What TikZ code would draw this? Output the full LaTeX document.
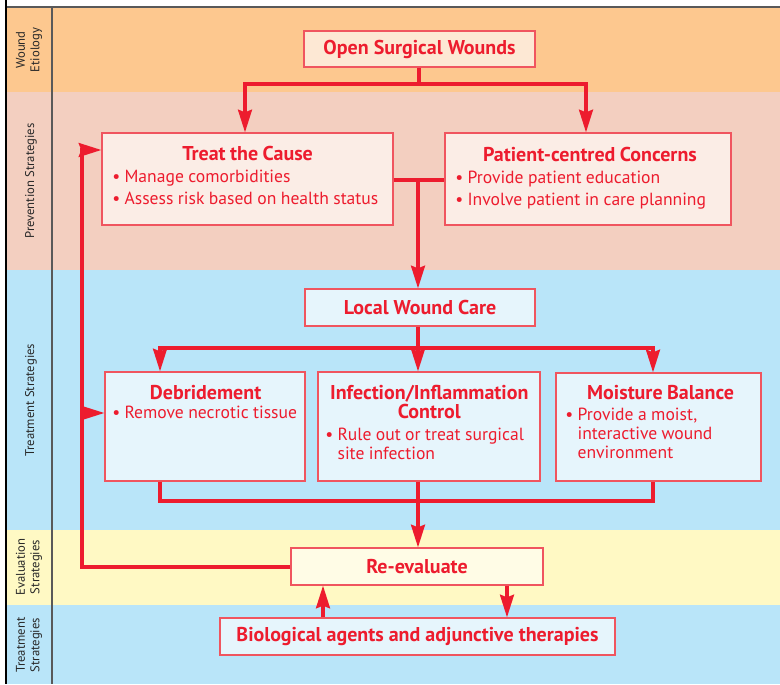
\documentclass[tikz,border=0pt]{standalone}
\usepackage{fontspec}
\setmainfont{PT Sans}
\usetikzlibrary{arrows.meta,calc}
\definecolor{rd}{RGB}{237,28,46}
\definecolor{bd}{RGB}{240,85,95}
\definecolor{bandO}{RGB}{253,200,143}
\definecolor{bandP}{RGB}{243,207,192}
\definecolor{bandB}{RGB}{185,229,249}
\definecolor{bandY}{RGB}{255,249,196}
\definecolor{fO}{RGB}{253,232,212}
\definecolor{fP}{RGB}{251,237,230}
\definecolor{fB}{RGB}{230,245,252}
\definecolor{fY}{RGB}{255,252,230}
\definecolor{lbl}{RGB}{40,40,40}
\newcommand{\ttl}{\fontsize{15}{16}\selectfont\bfseries}
\newcommand{\bl}[1]{\par\hangindent=0.7em\hangafter=1\noindent\makebox[0.7em][l]{•}#1\par}
\tikzset{
  box/.style={draw=bd, line width=1pt, inner sep=0pt},
  conn/.style={draw=rd, line width=2.3pt},
  arr/.style={conn, -{Stealth[length=17pt,width=10.5pt,inset=2pt]}},
  txt/.style={text=rd, inner sep=0pt, align=left},
  side/.style={text=lbl, rotate=90, align=center, font=\fontsize{9.5}{11}\selectfont, inner sep=0pt},
}
\begin{document}
\begin{tikzpicture}[x=0.75pt,y=-0.75pt]
\useasboundingbox (0,0) rectangle (780,684);
% bands
\fill[white] (0,0) rectangle (780,684);
\fill[bandO] (6,7) rectangle (780,92);
\fill[bandP] (6,92) rectangle (780,270);
\fill[bandB] (6,270) rectangle (780,530);
\fill[bandY] (6,530) rectangle (780,605);
\fill[bandB] (6,605) rectangle (780,684);
\draw[gray!70!black, line width=1pt] (6,7) -- (780,7);
\draw[black, line width=1pt] (6,0) -- (6,684);
\draw[gray!70!black, line width=0.9pt] (52,7) -- (52,684);
% side labels
\node[side] (s1) at (29,50) {Wound\\Etiology};
\node[side] (s2) at (31,181) {Prevention Strategies};
\node[side] (s3) at (31,400) {Treatment Strategies};
\node[side] (s4) at (29,567) {Evaluation\\Strategies};
\node[side] (s5) at (29,645) {Treatment\\Strategies};
% boxes
\node[box, fill=fO, minimum width=173.25pt, minimum height=27pt] (osw) at (419.5,49) {};
\node[txt] (oswt) at (osw.center) {\ttl Open Surgical Wounds};
\node[box, fill=fP, minimum width=218.25pt, minimum height=69pt] (tc) at (247.5,179) {};
\node[box, fill=fP, minimum width=214.5pt, minimum height=69pt] (pc) at (588,179) {};
\node[box, fill=fB, minimum width=172.5pt, minimum height=27.75pt] (lwc) at (420,307.5) {};
\node[txt] (lwct) at (lwc.center) {\ttl Local Wound Care};
\node[box, fill=fB, minimum width=150pt, minimum height=81.75pt] (deb) at (205,426.5) {};
\node[box, fill=fB, minimum width=166.5pt, minimum height=81.75pt] (inf) at (429,426.5) {};
\node[box, fill=fB, minimum width=153.75pt, minimum height=81pt] (moi) at (658.5,427) {};
\node[box, fill=fY, minimum width=189pt, minimum height=27.75pt] (rev) at (417,566.5) {};
\node[txt] (revt) at (rev.center) {\ttl Re-evaluate};
\node[box, fill=fB, minimum width=296.25pt, minimum height=27.75pt] (bio) at (417.5,636.5) {};
\node[txt] (biot) at (bio.center) {\ttl Biological agents and adjunctive therapies};
% box texts
\node[txt, anchor=north west, text width=203pt] (tct) at (112,146) {\centering\ttl Treat the Cause\par\fontsize{13.2}{16.5}\selectfont\mdseries\raggedright\bl{Manage comorbidities}\bl{Assess risk based on health status}};
\node[txt, anchor=north west, text width=202pt] (pct) at (455,147) {\centering\ttl Patient-centred Concerns\par\fontsize{13.2}{16.5}\selectfont\mdseries\raggedright\bl{Provide patient education}\bl{Involve patient in care planning}};
\node[txt, anchor=north west, text width=140pt] (debt) at (112,385) {\centering\ttl Debridement\par\fontsize{13.2}{14.5}\selectfont\mdseries\raggedright\bl{Remove necrotic tissue}};
\node[txt, anchor=north west, text width=156pt] (inft) at (325,385) {\centering\fontsize{15}{14.25}\selectfont\bfseries Infection/Inflammation\\Control\par\vspace{3pt}\fontsize{13.2}{13.75}\selectfont\mdseries\raggedright\bl{Rule out or treat surgical site infection}};
\node[txt, anchor=north west, text width=143pt] (moit) at (565,385) {\centering\ttl Moisture Balance\par\vspace{2pt}\fontsize{13.2}{14}\selectfont\mdseries\raggedright\bl{Provide a moist, interactive wound environment}};
% connectors
\coordinate (j1) at (419,84);
\coordinate (j1l) at (245,84);
\coordinate (j1r) at (586,84);
\draw[conn] (osw.south -| j1) -- (j1);
\draw[arr] (j1) -- (j1l) -- (j1l |- tc.north);
\draw[arr] (j1) -- (j1r) -- (j1r |- pc.north);
\coordinate (j2) at (418,180);
\draw[conn] (tc.east |- j2) -- (pc.west |- j2);
\draw[arr] (j2) -- (j2 |- lwc.north);
\coordinate (j3) at (418,348);
\coordinate (j3l) at (160,348);
\coordinate (j3r) at (653,348);
\draw[conn] (lwc.south -| j3) -- (j3);
\draw[arr] (j3) -- (j3 |- inf.north);
\draw[arr] (j3) -- (j3l) -- (j3l |- deb.north);
\draw[arr] (j3) -- (j3r) -- (j3r |- moi.north);
\coordinate (j4) at (418,501);
\coordinate (j4l) at (160,501);
\coordinate (j4r) at (653,501);
\draw[conn] (deb.south -| j4l) -- (j4l) -- (j4r) -- (moi.south -| j4r);
\draw[arr] (inf.south -| j4) -- (rev.north -| j4);
\coordinate (fb1) at (82,567);
\coordinate (fb2) at (82,150);
\coordinate (fb3) at (82,413);
\draw[arr] (rev.west |- fb1) -- (fb1) -- (fb2) -- (tc.west |- fb2);
\draw[arr] (fb3) -- (deb.west |- fb3);
\coordinate (u1) at (323,0);
\coordinate (u2) at (507,0);
\draw[arr] (bio.north -| u1) -- (rev.south -| u1);
\draw[arr] (rev.south -| u2) -- (bio.north -| u2);
\end{tikzpicture}
\end{document}
